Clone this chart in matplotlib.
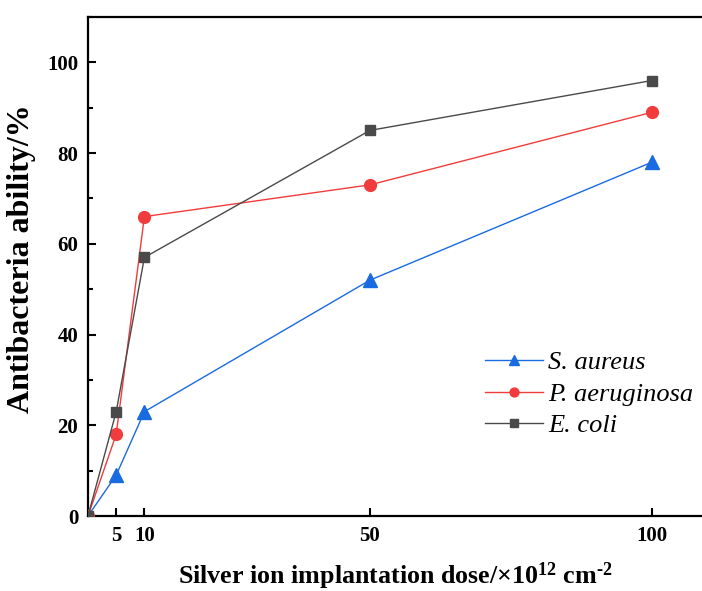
import matplotlib
matplotlib.use("Agg")
import matplotlib.pyplot as plt
from matplotlib.ticker import MultipleLocator

dose = [0, 5, 10, 50, 100]
s_aureus = [0, 9, 23, 52, 78]
p_aeruginosa = [0, 18, 66, 73, 89]
e_coli = [0, 23, 57, 85, 96]
xticks = [5, 10, 50, 100]
yticks = [0, 20, 40, 60, 80, 100]

plt.rcParams['font.family'] = ['Liberation Serif', 'DejaVu Serif']
plt.rcParams['mathtext.fontset'] = 'custom'
plt.rcParams['mathtext.rm'] = 'Liberation Serif:bold'
plt.rcParams['mathtext.bf'] = 'Liberation Serif:bold'
plt.rcParams['mathtext.it'] = 'Liberation Serif:bold'

fig = plt.figure(figsize=(7.02, 5.91), dpi=100)
ax = fig.add_axes([88/702, 75/591, 1 - 88/702, (516-17)/591])

ax.plot(dose, s_aureus, color='#1a6be0', marker='^', markersize=10, lw=1.0, label='S. aureus', zorder=3)
ax.plot(dose, p_aeruginosa, color='#f03c3c', marker='o', markersize=8.5, lw=1.0, label='P. aeruginosa', zorder=3)
ax.plot(dose, e_coli, color='#4a4a4a', marker='s', markersize=7.5, lw=1.0, label='E. coli', zorder=3)

ax.set_xlim(0, (702-88)/5.64)
ax.set_ylim(0, 110)
ax.set_xticks(xticks)
ax.set_yticks(yticks)
ax.yaxis.set_minor_locator(MultipleLocator(10))
ax.tick_params(axis='both', which='major', direction='in', length=6, width=1.5, labelsize=15, pad=7)
ax.tick_params(axis='y', which='minor', direction='in', length=3.5, width=1.5)
for lab in ax.get_xticklabels() + ax.get_yticklabels():
    lab.set_fontweight('bold')
for s in ['left', 'bottom', 'top']:
    ax.spines[s].set_linewidth(1.6)
ax.spines['right'].set_visible(False)

ax.set_ylabel('Antibacteria ability/%', fontsize=23, fontweight='bold')
ax.yaxis.set_label_coords(-0.0855, 0.515)
ax.set_xlabel('Silver ion implantation dose/×10$^{\\mathbf{12}}$ cm$^{\\mathbf{\u20102}}$',
              fontsize=18.7, fontweight='bold', labelpad=11)

leg = ax.legend(loc='upper left', bbox_to_anchor=((485-88)/614, (516-351)/499), frameon=False,
                prop={'style': 'italic', 'size': 19}, handlelength=2.2, handletextpad=0.2,
                labelspacing=0.3, borderpad=0, borderaxespad=0, markerscale=0.75)

fig.savefig('out.png', dpi=100)
